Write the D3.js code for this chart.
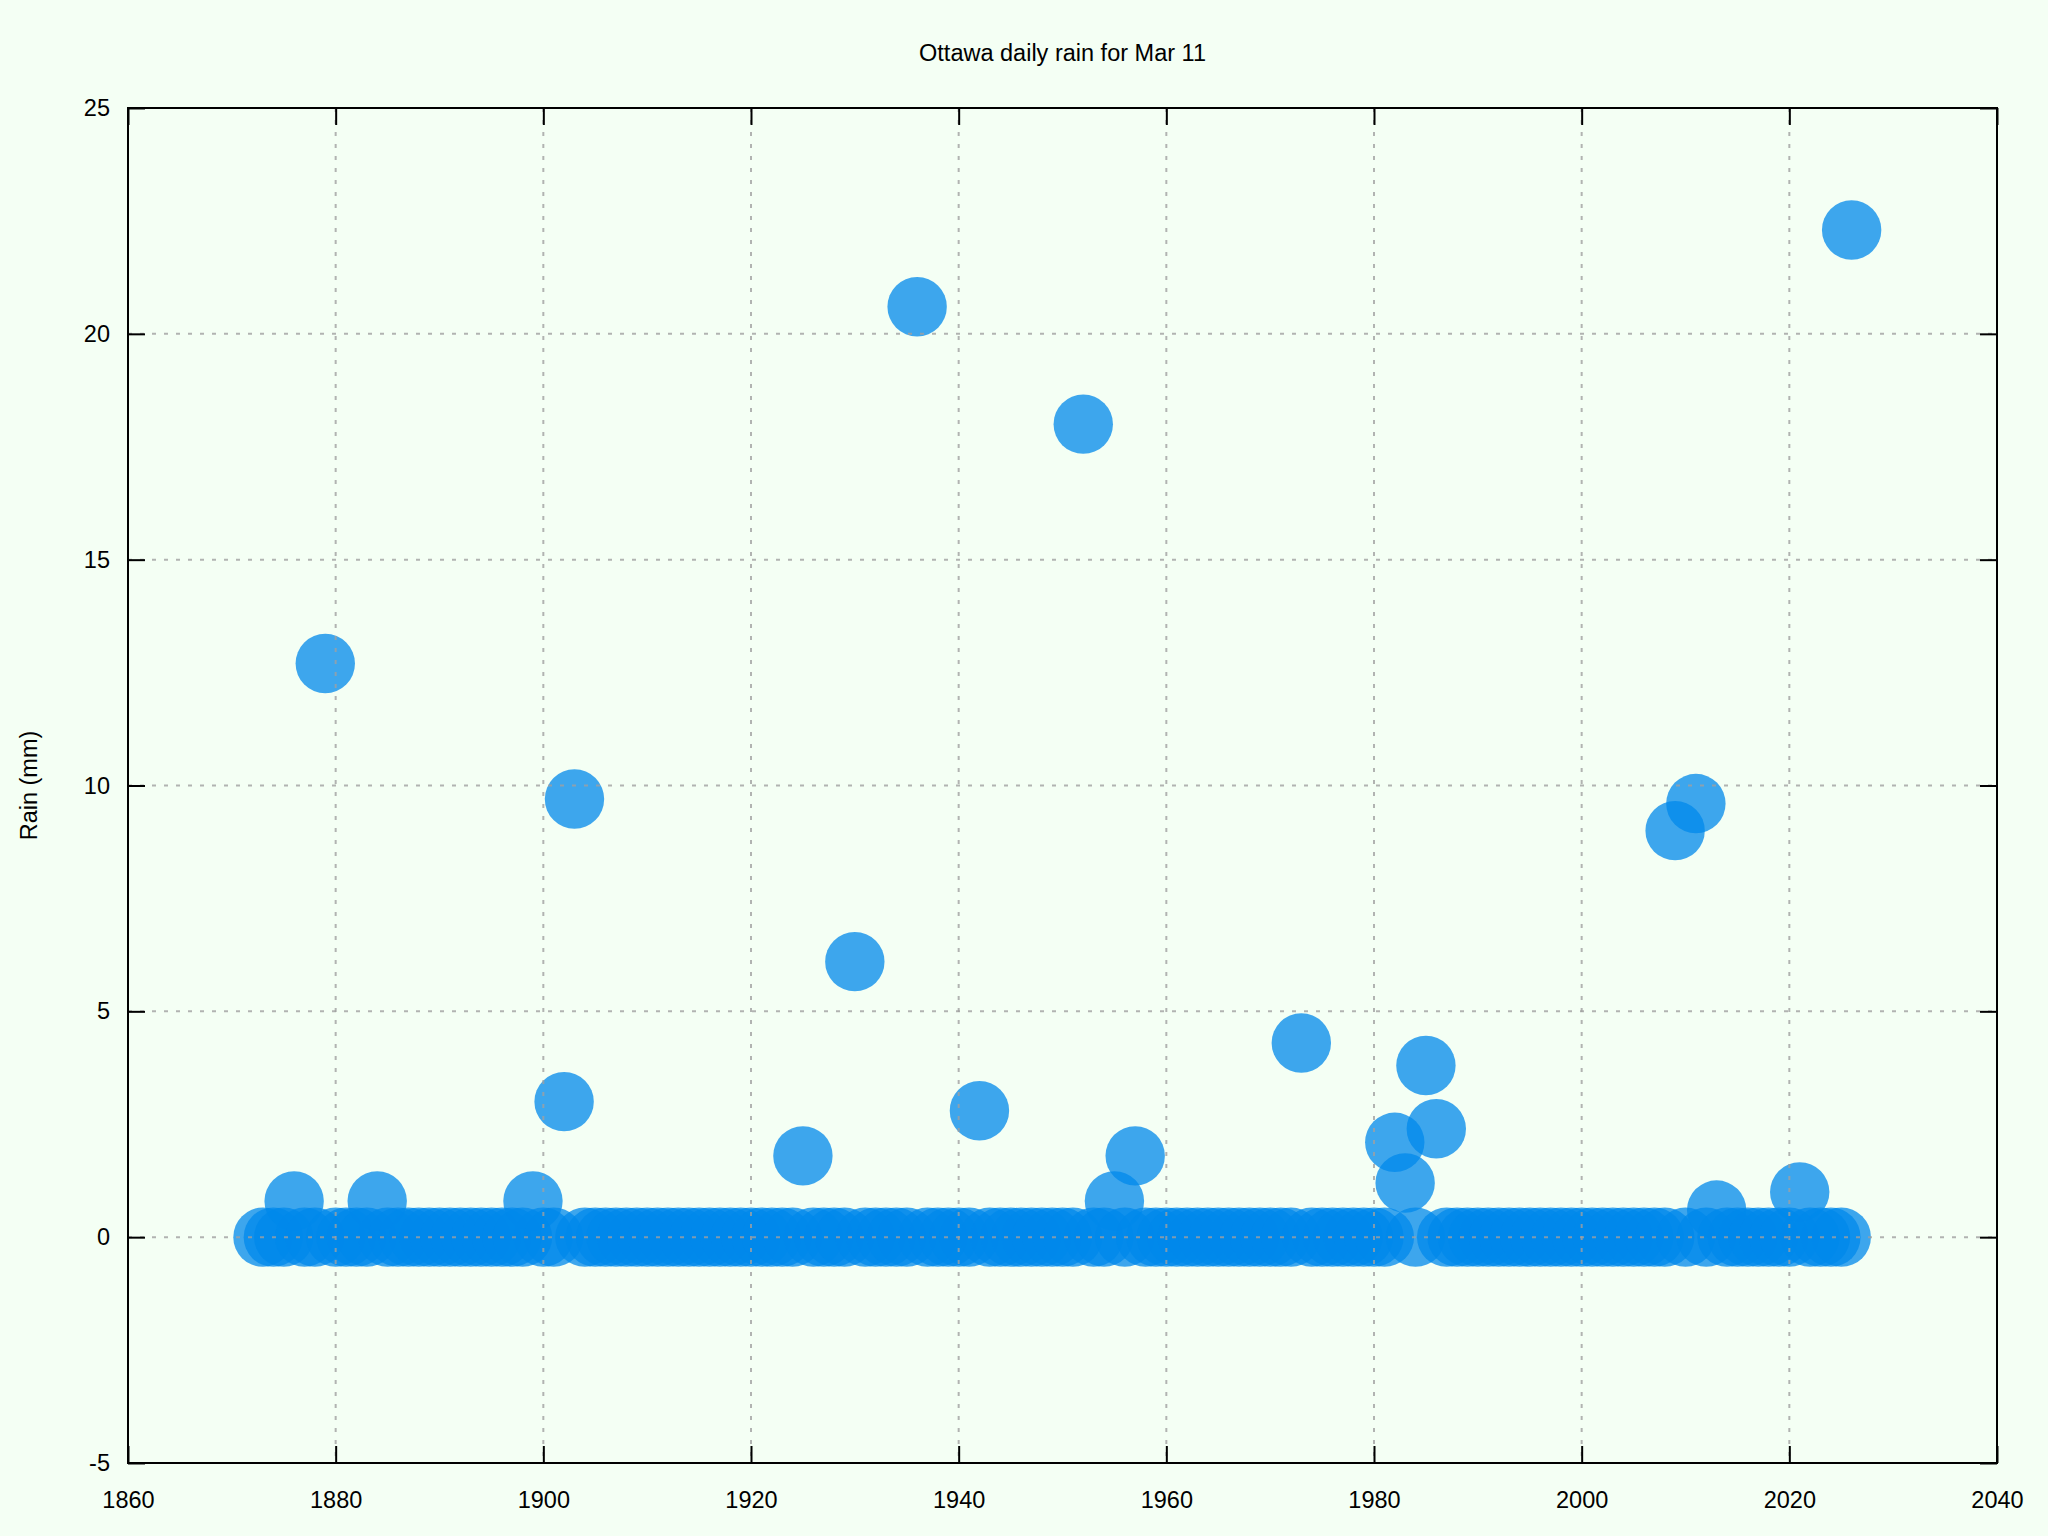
<!DOCTYPE html>
<html>
<head>
<meta charset="utf-8">
<script src="https://cdn.jsdelivr.net/npm/d3@7"></script>
<style>
  html, body { margin: 0; padding: 0; background: #f4fff4; }
  svg { display: block; }
  text { font-family: "Liberation Sans", Arial, sans-serif; fill: #000; }
</style>
</head>
<body>
<svg id="chart" width="2048" height="1536"></svg>
<script>
// ---- data ----
const title = "Ottawa daily rain for Mar 11";
const yLabel = "Rain (mm)";
const years = [
  1873, 1874, 1875, 1876, 1877, 1878, 1879,
  1880, 1881, 1882, 1883, 1884, 1885, 1886, 1887, 1888, 1889,
  1890, 1891, 1892, 1893, 1894, 1895, 1896, 1897, 1898, 1899,
  1900, 1901, 1902, 1903, 1904, 1905, 1906, 1907, 1908, 1909,
  1910, 1911, 1912, 1913, 1914, 1915, 1916, 1917, 1918, 1919,
  1920, 1921, 1922, 1923, 1924, 1925, 1926, 1927, 1928, 1929,
  1930, 1931, 1932, 1933, 1934, 1935, 1936, 1937, 1938, 1939,
  1940, 1941, 1942, 1943, 1944, 1945, 1946, 1947, 1948, 1949,
  1950, 1951, 1952, 1953, 1954, 1955, 1956, 1957, 1958, 1959,
  1960, 1961, 1962, 1963, 1964, 1965, 1966, 1967, 1968, 1969,
  1970, 1971, 1972, 1973, 1974, 1975, 1976, 1977, 1978, 1979,
  1980, 1981, 1982, 1983, 1984, 1985, 1986, 1987, 1988, 1989,
  1990, 1991, 1992, 1993, 1994, 1995, 1996, 1997, 1998, 1999,
  2000, 2001, 2002, 2003, 2004, 2005, 2006, 2007, 2008, 2009,
  2010, 2011, 2012, 2013, 2014, 2015, 2016, 2017, 2018, 2019,
  2020, 2021, 2022, 2023, 2024, 2025, 2026
];
const rain = [
  0, 0, 0, 0.8, 0, 0, 12.7,
  0, 0, 0, 0, 0.8, 0, 0, 0, 0, 0,
  0, 0, 0, 0, 0, 0, 0, 0, 0, 0.8,
  0, 0, 3.0, 9.7, 0, 0, 0, 0, 0, 0,
  0, 0, 0, 0, 0, 0, 0, 0, 0, 0,
  0, 0, 0, 0, 0, 1.8, 0, 0, 0, 0,
  6.1, 0, 0, 0, 0, 0, 20.6, 0, 0, 0,
  0, 0, 2.8, 0, 0, 0, 0, 0, 0, 0,
  0, 0, 18.0, 0, 0, 0.8, 0, 1.8, 0, 0,
  0, 0, 0, 0, 0, 0, 0, 0, 0, 0,
  0, 0, 0, 4.3, 0, 0, 0, 0, 0, 0,
  0, 0, 2.1, 1.2, 0, 3.8, 2.4, 0, 0, 0,
  0, 0, 0, 0, 0, 0, 0, 0, 0, 0,
  0, 0, 0, 0, 0, 0, 0, 0, 0, 9.0,
  0, 9.6, 0, 0.6, 0, 0, 0, 0, 0, 0,
  0, 1.0, 0, 0, 0, 0, 22.3
];
const xTicks = [1860, 1880, 1900, 1920, 1940, 1960, 1980, 2000, 2020, 2040];
const yTicks = [-5, 0, 5, 10, 15, 20, 25];

// ---- layout ----
const svg = d3.select("#chart");
const L = 128, R = 1997, T = 108, B = 1463;
const x = d3.scaleLinear().domain([1860, 2040]).range([L, R]);
const y = d3.scaleLinear().domain([-5, 25]).range([B, T]);
const fs = 23.5;
const tick = 17;
const fmt = d => String(d);

svg.append("rect").attr("width", 2048).attr("height", 1536).attr("fill", "#f4fff4");

// points
const pts = years.map((yr, i) => ({ yr, v: rain[i] }));
svg.append("g").selectAll("circle").data(pts).join("circle")
  .attr("cx", d => x(d.yr))
  .attr("cy", d => y(d.v))
  .attr("r", 29.7)
  .attr("fill", "rgb(0,136,235)")
  .attr("fill-opacity", 0.75);

// grid (in front)
const grid = svg.append("g").attr("stroke", "#a0a0a0").attr("stroke-opacity", 0.8)
  .attr("stroke-width", 2).attr("stroke-dasharray", "4,8");
grid.selectAll("line.v").data(xTicks.filter(t => t > 1860 && t < 2040)).join("line")
  .attr("class", "v")
  .attr("x1", d => x(d)).attr("x2", d => x(d))
  .attr("y1", T).attr("y2", B);
grid.selectAll("line.h").data(yTicks.filter(t => t > -5 && t < 25)).join("line")
  .attr("class", "h")
  .attr("x1", L).attr("x2", R)
  .attr("y1", d => y(d)).attr("y2", d => y(d));

// axes
function style(g) {
  g.select(".domain").remove();
  g.selectAll(".tick line").attr("stroke", "#000").attr("stroke-width", 2);
  g.selectAll(".tick text").attr("font-size", fs).attr("font-family", '"Liberation Sans", Arial, sans-serif').attr("fill", "#000");
}
svg.append("g").attr("transform", `translate(0,${B})`)
  .call(d3.axisBottom(x).tickValues(xTicks).tickFormat(fmt).tickSizeInner(-tick).tickSizeOuter(0).tickPadding(28))
  .call(style);
svg.append("g").attr("transform", `translate(0,${T})`)
  .call(d3.axisTop(x).tickValues(xTicks).tickFormat("").tickSizeInner(-tick).tickSizeOuter(0))
  .call(style);
svg.append("g").attr("transform", `translate(${L},0)`)
  .call(d3.axisLeft(y).tickValues(yTicks).tickFormat(fmt).tickSizeInner(-tick).tickSizeOuter(0).tickPadding(18))
  .call(style);
svg.append("g").attr("transform", `translate(${R},0)`)
  .call(d3.axisRight(y).tickValues(yTicks).tickFormat("").tickSizeInner(-tick).tickSizeOuter(0))
  .call(style);

// frame
svg.append("rect").attr("x", L).attr("y", T).attr("width", R - L).attr("height", B - T)
  .attr("fill", "none").attr("stroke", "#000").attr("stroke-width", 2);

// title and label
svg.append("text").attr("x", (L + R) / 2).attr("y", 61).attr("text-anchor", "middle")
  .attr("font-size", fs).text(title);
svg.append("text").attr("transform", `translate(37,${(T + B) / 2}) rotate(-90)`)
  .attr("text-anchor", "middle").attr("font-size", fs).text(yLabel);
</script>
</body>
</html>
